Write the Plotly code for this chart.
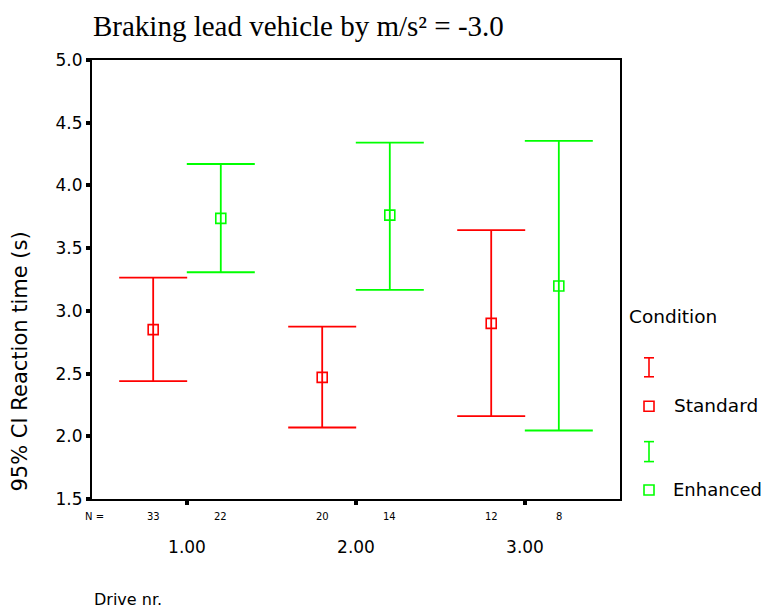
import plotly.graph_objects as go

# ---- data ----
drives = [1, 2, 3]
drive_labels = ["1.00", "2.00", "3.00"]
std_mean = [2.85, 2.47, 2.90]
std_low = [2.44, 2.07, 2.16]
std_high = [3.265, 2.875, 3.644]
enh_mean = [3.737, 3.763, 3.198]
enh_low = [3.308, 3.167, 2.046]
enh_high = [4.171, 4.342, 4.356]
std_n = [33, 20, 12]
enh_n = [22, 14, 8]

RED = "#ff0000"
GREEN = "#00ff00"
OFF = 0.2
SANS = "DejaVu Sans, Verdana, sans-serif"

# page offset (body margin) and plot-area pixel geometry in page pixels
O = 8
FW, FH = 771 - O, 615 - O
L, R, T, B = 92, 620, 59.5, 499.5
W, H = R - L, B - T
def px(x):
    return (x - L) / W
def py(y):
    return (B - y) / H

fig = go.Figure()

def add_series(mean, low, high, off, color):
    xs = [d + off for d in drives]
    fig.add_trace(go.Scatter(
        x=xs, y=mean, mode="markers",
        marker=dict(symbol="square-open", size=10, color=color, line=dict(width=1.6, color=color)),
        error_y=dict(type="data", symmetric=False,
                     array=[h - m for h, m in zip(high, mean)],
                     arrayminus=[m - l for m, l in zip(mean, low)],
                     color=color, thickness=1.8, width=34),
        showlegend=False, hoverinfo="skip"))

add_series(std_mean, std_low, std_high, -OFF, RED)
add_series(enh_mean, enh_low, enh_high, OFF, GREEN)

ann = []
# N labels
ann.append(dict(x=px(83), y=py(517), xref="paper", yref="paper", text="N =", showarrow=False,
                xanchor="left", yanchor="middle", font=dict(size=10)))
for d, n1, n2 in zip(drives, std_n, enh_n):
    ann.append(dict(x=d - OFF, y=py(517), xref="x", yref="paper", text=str(n1), showarrow=False,
                    yanchor="middle", font=dict(size=10)))
    ann.append(dict(x=d + OFF, y=py(517), xref="x", yref="paper", text=str(n2), showarrow=False,
                    yanchor="middle", font=dict(size=10)))
# y title
ann.append(dict(x=px(20), y=py(494), xref="paper", yref="paper", text="95% CI Reaction time (s)",
                textangle=-90, showarrow=False, xanchor="center", yanchor="bottom", font=dict(size=21)))
# x title
ann.append(dict(x=px(92), y=py(600), xref="paper", yref="paper", text="Drive nr.",
                showarrow=False, xanchor="left", yanchor="middle", font=dict(size=16)))
# legend texts
ann.append(dict(x=px(627), y=py(317), xref="paper", yref="paper", text="Condition",
                showarrow=False, xanchor="left", yanchor="middle", font=dict(size=18.5)))
ann.append(dict(x=px(672), y=py(406), xref="paper", yref="paper", text="Standard",
                showarrow=False, xanchor="left", yanchor="middle", font=dict(size=18.5)))
ann.append(dict(x=px(671), y=py(490), xref="paper", yref="paper", text="Enhanced",
                showarrow=False, xanchor="left", yanchor="middle", font=dict(size=18)))

shapes = []
def legend_ibeam(cx, y0, y1, color):
    shapes.append(dict(type="line", xref="paper", yref="paper", x0=px(cx), x1=px(cx), y0=py(y0), y1=py(y1),
                       line=dict(color=color, width=1.6)))
    for yy in (y0, y1):
        shapes.append(dict(type="line", xref="paper", yref="paper", x0=px(cx - 5), x1=px(cx + 5),
                           y0=py(yy), y1=py(yy), line=dict(color=color, width=1.6)))
def legend_square(cx, cy, color):
    shapes.append(dict(type="rect", xref="paper", yref="paper", x0=px(cx - 5), x1=px(cx + 5),
                       y0=py(cy + 5), y1=py(cy - 5), line=dict(color=color, width=1.6)))

legend_ibeam(649, 358, 377, RED)
legend_square(649, 406.5, RED)
legend_ibeam(649, 442, 462, GREEN)
legend_square(649, 490.5, GREEN)

fig.update_layout(
    width=FW, height=FH,
    margin=dict(l=L - O, r=FW - (R - O), t=T - O, b=615 - B),
    paper_bgcolor="white", plot_bgcolor="white",
    font=dict(family=SANS, color="black", size=15),
    title=dict(text="Braking lead vehicle by m/s² = -3.0", x=(93 - O) / FW, xref="container", xanchor="left",
               y=1.0 - 8 / FH, yref="container", yanchor="top",
               font=dict(family="Liberation Serif, Times New Roman, serif", size=29, color="black")),
    xaxis=dict(range=[0.438, 3.562], tickvals=drives, ticktext=drive_labels,
               ticks="outside", ticklen=4, tickwidth=4, tickcolor="black",
               showline=True, linecolor="black", linewidth=2, mirror=True,
               showgrid=False, zeroline=False, ticklabelstandoff=28,
               tickfont=dict(size=17)),
    yaxis=dict(range=[1.5, 5.0], tickvals=[1.5, 2.0, 2.5, 3.0, 3.5, 4.0, 4.5, 5.0],
               ticktext=["1.5", "2.0", "2.5", "3.0", "3.5", "4.0", "4.5", "5.0"],
               ticks="outside", ticklen=4, tickwidth=4, tickcolor="black",
               showline=True, linecolor="black", linewidth=2, mirror=True,
               showgrid=False, zeroline=False, tickfont=dict(size=17)),
    annotations=ann, shapes=shapes,
)

fig.write_html("out.html")
